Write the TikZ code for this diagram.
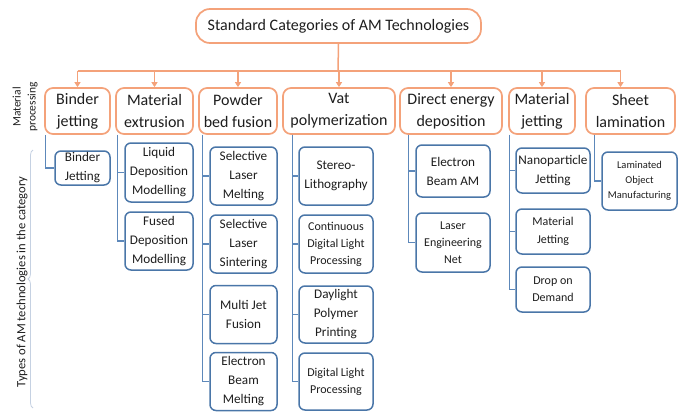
\documentclass[tikz,border=0pt]{standalone}
\usepackage{fontspec}
\setmainfont{Carlito}
\usepackage{xcolor}
\definecolor{amOrange}{HTML}{F4A27A}
\definecolor{amBlue}{HTML}{4A76A8}
\definecolor{amLink}{HTML}{5D88BA}
\definecolor{amText}{HTML}{1E1E1E}
\definecolor{amBrace}{HTML}{C5D1E2}
\usepackage{tikz}
\usetikzlibrary{arrows.meta,positioning,calc,decorations.pathreplacing}
\tikzset{
    topbox/.style={
        draw=amOrange,
        fill=white,
        rectangle,
        rounded corners=14pt,
        align=center,
        line width=1.7pt,
        inner sep=1pt,
        text=amText,
        font=\fontsize{16}{20}\selectfont
    },
    catbox/.style={
        draw=amOrange,
        fill=white,
        rectangle,
        rounded corners=8pt,
        align=center,
        minimum height=46pt,
        line width=1.7pt,
        inner sep=1pt,
        text=amText,
        font=\fontsize{16}{22}\selectfont
    },
    techbox/.style={
        draw=amBlue,
        fill=white,
        rectangle,
        rounded corners=6pt,
        align=center,
        line width=1.5pt,
        inner sep=1pt,
        text=amText,
        font=\fontsize{13.2}{19}\selectfont
    },
    arrow/.style={
        -{Triangle[width=6pt,length=5pt]},
        line width=1.5pt,
        color=amOrange
    },
    bus/.style={
        line width=1.5pt,
        color=amOrange
    },
    link/.style={
        line width=1.1pt,
        color=amLink
    },
    sidetext/.style={
        rotate=90,
        align=center,
        inner sep=0pt,
        text=amText
    }
}

\begin{document}
\begin{tikzpicture}[x=1pt,y=-1pt]
    \useasboundingbox (0,0) rectangle (683,412);

    % Top node
    \node[topbox, minimum width=285pt, minimum height=34pt] (std) at (338.5,26)
        {Standard Categories of AM Technologies};

    % Categories
    \node[catbox, minimum width=65pt] (bj) at (77.5,111) {Binder\\jetting};
    \node[catbox, minimum width=77pt] (me) at (154.5,111) {Material\\extrusion};
    \node[catbox, minimum width=78pt] (pbf) at (238,111) {Powder\\bed fusion};
    \node[catbox, minimum width=112pt] (vp) at (339,111) {Vat\\polymerization};
    \node[catbox, minimum width=102pt] (ded) at (451,111) {Direct energy\\deposition};
    \node[catbox, minimum width=66pt] (mj) at (542,111) {Material\\jetting};
    \node[catbox, minimum width=89pt] (sl) at (630.5,111) {Sheet\\lamination};

    % Bus and arrows to the categories
    \coordinate (hub) at (338,71);
    \coordinate (slin) at ([xshift=-10pt]sl.north);
    \draw[bus] (std.south) -- (hub);
    \draw[bus] (hub -| bj.north) -- (hub -| slin);
    \draw[arrow] (hub -| bj.north) -- (bj.north);
    \draw[arrow] (hub -| me.north) -- (me.north);
    \draw[arrow] (hub -| pbf.north) -- (pbf.north);
    \draw[arrow] (hub -| vp.north) -- (vp.north);
    \draw[arrow] (hub -| ded.north) -- (ded.north);
    \draw[arrow] (hub -| mj.north) -- (mj.north);
    \draw[arrow] (hub -| slin) -- (slin);

    % Binder jetting
    \node[techbox, minimum width=55pt, minimum height=34pt] (bj1) at (82.5,168) {Binder\\Jetting};
    \draw[link] ([xshift=1pt]bj.south west) |- (bj1.west);

    % Material extrusion
    \node[techbox, minimum width=68pt, minimum height=59pt] (me1) at (159,172.5) {Liquid\\Deposition\\Modelling};
    \node[techbox, minimum width=68pt, minimum height=58pt] (me2) at (159,241) {Fused\\Deposition\\Modelling};
    \draw[link] ([xshift=2pt]me.south west) |- (me1.west);
    \draw[link] ([xshift=2pt]me.south west) |- (me2.west);

    % Powder bed fusion
    \node[techbox, minimum width=67pt, minimum height=58pt] (pbf1) at (243.5,176) {Selective\\Laser\\Melting};
    \node[techbox, minimum width=67pt, minimum height=58pt] (pbf2) at (243.5,244) {Selective\\Laser\\Sintering};
    \node[techbox, minimum width=67pt, minimum height=58pt] (pbf3) at (243.5,314.5) {Multi Jet\\Fusion};
    \node[techbox, minimum width=67pt, minimum height=58pt] (pbf4) at (243.5,381.5) {Electron\\Beam\\Melting};
    \draw[link] ([xshift=4pt]pbf.south west) |- (pbf1.west);
    \draw[link] ([xshift=4pt]pbf.south west) |- (pbf2.west);
    \draw[link] ([xshift=4pt]pbf.south west) |- (pbf3.west);
    \draw[link] ([xshift=4pt]pbf.south west) |- (pbf4.west);

    % Vat polymerization
    \node[techbox, minimum width=74pt, minimum height=58pt] (vp1) at (336,176) {Stereo-\\Lithography};
    \node[techbox, minimum width=74pt, minimum height=58pt, font=\fontsize{12}{17}\selectfont] (vp2) at (336,244) {Continuous\\Digital Light\\Processing};
    \node[techbox, minimum width=74pt, minimum height=57pt] (vp3) at (336,314.5) {Daylight\\Polymer\\Printing};
    \node[techbox, minimum width=74pt, minimum height=57pt, font=\fontsize{12}{17}\selectfont] (vp4) at (336,381.5) {Digital Light\\Processing};
    \draw[link] ([xshift=10pt]vp.south west) |- (vp1.west);
    \draw[link] ([xshift=10pt]vp.south west) |- (vp2.west);
    \draw[link] ([xshift=10pt]vp.south west) |- (vp3.west);
    \draw[link] ([xshift=10pt]vp.south west) |- (vp4.west);

    % Direct energy deposition
    \node[techbox, minimum width=74pt, minimum height=52pt] (ded1) at (453,171) {Electron\\Beam AM};
    \node[techbox, minimum width=74pt, minimum height=59pt, font=\fontsize{12}{17}\selectfont] (ded2) at (453,242.5) {Laser\\Engineering\\Net};
    \draw[link] ([xshift=9pt]ded.south west) |- (ded1.west);
    \draw[link] ([xshift=9pt]ded.south west) |- (ded2.west);

    % Material jetting
    \node[techbox, minimum width=74pt, minimum height=45pt] (mj1) at (553,170.5) {Nanoparticle\\Jetting};
    \node[techbox, minimum width=74pt, minimum height=45pt, font=\fontsize{12}{17.5}\selectfont] (mj2) at (553,231.5) {Material\\Jetting};
    \node[techbox, minimum width=74pt, minimum height=45pt, font=\fontsize{12}{17}\selectfont] (mj3) at (553,289.5) {Drop on\\Demand};
    \draw[link] ([xshift=1pt]mj.south west) |- (mj1.west);
    \draw[link] ([xshift=1pt]mj.south west) |- (mj2.west);
    \draw[link] ([xshift=1pt]mj.south west) |- (mj3.west);

    % Sheet lamination
    \node[techbox, minimum width=75pt, minimum height=58pt, font=\fontsize{10.5}{15}\selectfont] (sl1) at (639.5,181) {Laminated\\Object\\Manufacturing};
    \draw[link] ([xshift=9pt]sl.south west) |- (sl1.west);

    % Side captions
    \node[sidetext, font=\fontsize{11.5}{15}\selectfont] (mproc) at (25,107) {Material\\processing};
    \node[sidetext, font=\fontsize{12.6}{15}\selectfont] (types) at (22,282) {Types of AM technologies in the category};
    \coordinate (brbot) at (33,408);
    \coordinate (brtop) at (33,150);
    \draw[amBrace, line width=0.8pt, decorate, decoration={brace, amplitude=5pt}] (brbot) -- (brtop);
\end{tikzpicture}
\end{document}
